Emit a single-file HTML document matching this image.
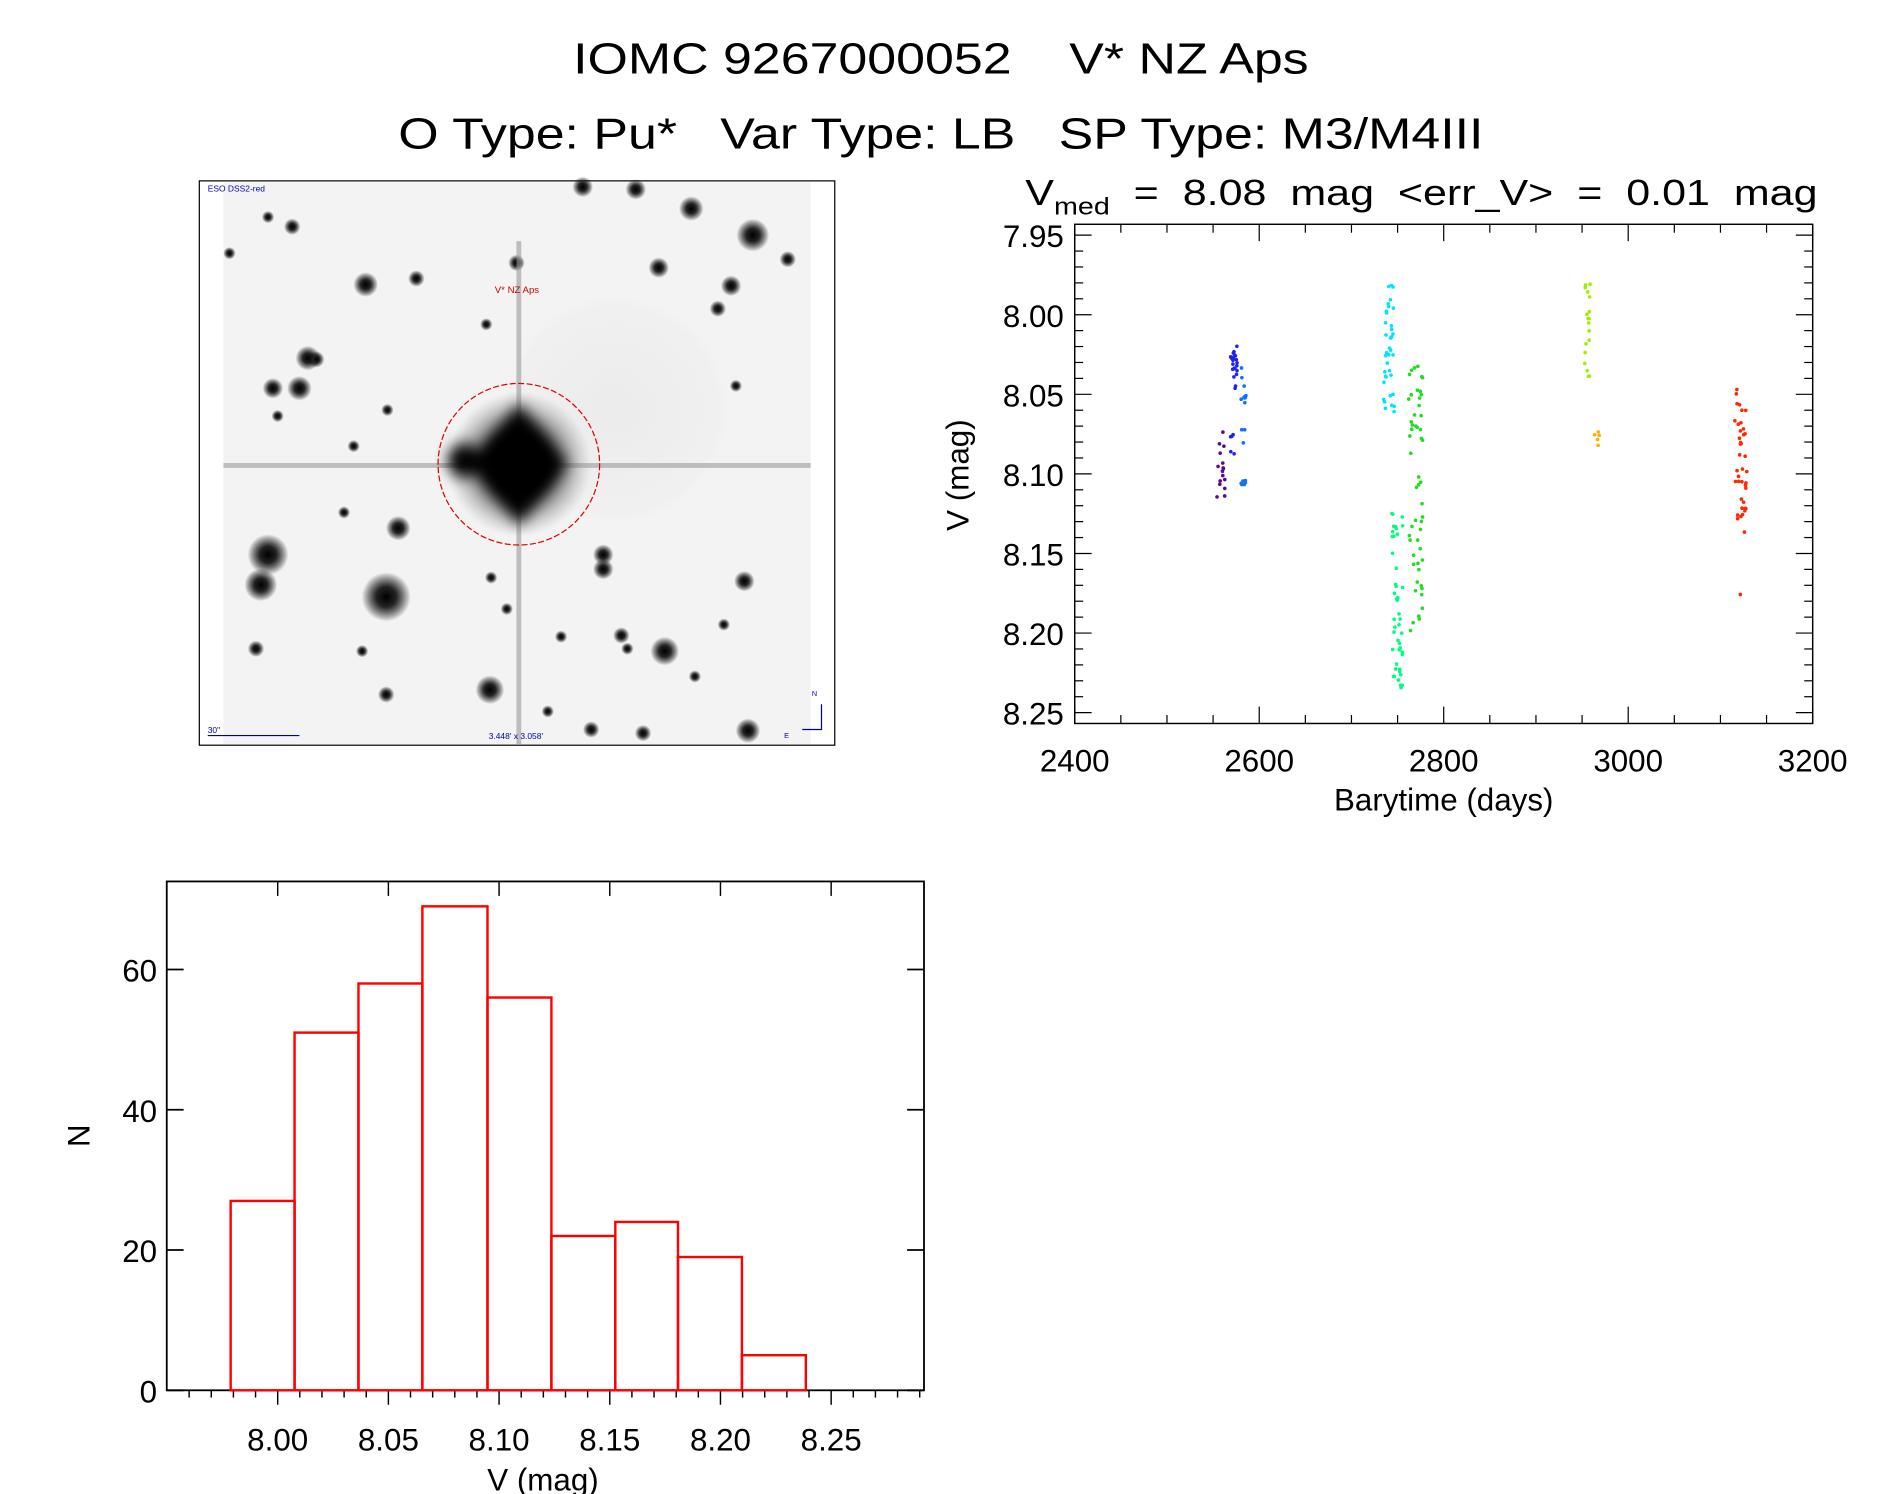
<!DOCTYPE html>
<html><head><meta charset="utf-8"><style>
html,body{margin:0;padding:0;background:#fff;}
svg{display:block;}
text{font-family:"Liberation Sans","DejaVu Sans",sans-serif;fill:#000;white-space:pre;}
</style></head><body>
<svg id="s" width="1889" height="1494" viewBox="0 0 1566 1239" xmlns="http://www.w3.org/2000/svg">
<defs>
<radialGradient id="star"><stop offset="0" stop-color="#000"/><stop offset="0.4" stop-color="#222"/><stop offset="1" stop-color="#000" stop-opacity="0"/></radialGradient>
<radialGradient id="big"><stop offset="0" stop-color="#000"/><stop offset="0.35" stop-color="#0a0a0a"/><stop offset="0.6" stop-color="#555" stop-opacity="0.7"/><stop offset="1" stop-color="#999" stop-opacity="0"/></radialGradient>
<radialGradient id="halo"><stop offset="0" stop-color="#ddd" stop-opacity="0.35"/><stop offset="0.9" stop-color="#e4e4e4" stop-opacity="0.2"/><stop offset="1" stop-color="#eee" stop-opacity="0"/></radialGradient>
<filter id="bl"><feGaussianBlur stdDeviation="6"/></filter>
</defs>
<text x="780" y="61" font-size="36" text-anchor="middle" textLength="610" lengthAdjust="spacingAndGlyphs">IOMC 9267000052    V* NZ Aps</text>
<text x="780" y="123" font-size="36" text-anchor="middle" textLength="900" lengthAdjust="spacingAndGlyphs">O Type: Pu*   Var Type: LB   SP Type: M3/M4III</text>

<!-- image panel -->
<rect x="165" y="150" width="527" height="468" fill="#fff" stroke="#000" stroke-width="1"/>
<rect x="185" y="151" width="487" height="466" fill="#f3f3f3"/>
<circle cx="510" cy="340" r="95" fill="url(#halo)"/>
<g id="stars"></g>
<rect x="185" y="384" width="487" height="4" fill="#999" opacity="0.6"/>
<rect x="428" y="200" width="4" height="417" fill="#999" opacity="0.6"/>
<circle cx="430" cy="385" r="60" fill="url(#big)"/>
<g filter="url(#bl)"><path d="M430 335 L470 385 L430 435 L390 385 Z" fill="#000"/><circle cx="385" cy="382" r="14" fill="#000"/><ellipse cx="430" cy="386" rx="30" ry="32" fill="#000"/></g>
<circle cx="430" cy="385" r="67" fill="none" stroke="#d00" stroke-width="1" stroke-dasharray="5,2"/>
<text x="410" y="243" font-size="8" style="fill:#c00">V* NZ Aps</text>
<text x="172" y="159" font-size="7" style="fill:#00a">ESO DSS2-red</text>
<line x1="172" y1="610" x2="248" y2="610" stroke="#00a"/>
<text x="172" y="608" font-size="7" style="fill:#00a">30"</text>
<text x="405" y="613" font-size="7" style="fill:#00a">3.448' x 3.058'</text>
<text x="673" y="577" font-size="6" style="fill:#00a">N</text>
<path d="M681 584 V605 H665" fill="none" stroke="#00a"/>
<text x="650" y="612" font-size="6" style="fill:#00a">E</text>

<!-- light curve -->
<text x="850" y="170" font-size="30" textLength="657" lengthAdjust="spacingAndGlyphs">V<tspan font-size="20" dy="8">med</tspan><tspan dy="-8">  =  8.08  mag  &lt;err_V&gt;  =  0.01  mag</tspan></text>
<rect x="891" y="186" width="612" height="414" fill="none" stroke="#000" stroke-width="1.2"/>
<g id="lct"></g>
<g id="lcd"></g>
<text x="1197" y="672" font-size="26" text-anchor="middle">Barytime (days)</text>
<text transform="translate(803,394) rotate(-90)" font-size="26" text-anchor="middle">V (mag)</text>

<!-- histogram -->
<rect x="138" y="731" width="628" height="422" fill="none" stroke="#000" stroke-width="1.5"/>
<g id="ht"></g>
<g id="hb" fill="none" stroke="#f00" stroke-width="2"></g>
<text x="450" y="1236" font-size="26" text-anchor="middle">V (mag)</text>
<text transform="translate(74,942) rotate(-90)" font-size="26" text-anchor="middle">N</text>
</svg>
<script>
var NS="http://www.w3.org/2000/svg";
function el(p,t,a,txt){var e=document.createElementNS(NS,t);for(var k in a)e.setAttribute(k,a[k]);if(txt!==undefined)e.textContent=txt;document.getElementById(p).appendChild(e);return e;}
var seed=7;function rnd(){seed=(seed*16807)%2147483647;return seed/2147483647;}
var st=[[483,155,5],[527,157,5],[573,173,6],[624,195,8],[653,215,4],[242,188,4],[303,236,6],[345,231,4],[428,218,4],[546,222,5],[606,237,5],[595,256,4],[403,269,3],[255,297,6],[226,322,5],[248,322,6],[262,298,4],[321,340,3],[500,460,5],[500,472,5],[222,460,10],[216,485,8],[320,495,12],[407,479,3],[330,438,6],[551,540,7],[617,482,5],[576,561,3],[212,538,4],[300,540,3],[465,528,3],[515,527,4],[520,538,3],[600,518,3],[406,572,7],[320,576,4],[454,590,3],[620,606,6],[533,608,4],[490,605,4],[222,180,3],[190,210,3],[293,370,3],[230,345,3],[420,505,3],[610,320,3],[285,425,3]];
st.forEach(function(s){el("stars","circle",{cx:s[0],cy:s[1],r:s[2]*1.7,fill:"url(#star)"});});
function X(t){return 891+(t-2400)*612/800;}
function Y(v){return 195+(v-7.95)*1320;}
for(var t=2400;t<=3200;t+=50){var maj=t%200==0,L=maj?14:7;
 el("lct","line",{x1:X(t),y1:600,x2:X(t),y2:600-L,stroke:"#000"});
 el("lct","line",{x1:X(t),y1:186,x2:X(t),y2:186+L,stroke:"#000"});
 if(maj)el("lct","text",{x:X(t),y:640,"font-size":26,"text-anchor":"middle"},String(t));}
for(var i=0;i<=31;i++){var v=7.95+i*0.01;if(v>8.256)break;var maj=i%5==0,L=maj?14:7;
 el("lct","line",{x1:891,y1:Y(v),x2:891+L,y2:Y(v),stroke:"#000"});
 el("lct","line",{x1:1503,y1:Y(v),x2:1503-L,y2:Y(v),stroke:"#000"});
 if(maj)el("lct","text",{x:882,y:Y(v)+10,"font-size":26,"text-anchor":"end"},v.toFixed(2));}
var cl=[[1009,1016,355,417,16,"#5a0a8c"],[1020,1026,285,325,22,"#2222ee"],[1020,1024,350,380,5,"#2222ee"],[1029,1033,305,410,18,"#1070ff"],
[1147,1156,234,342,38,"#00e5ff"],[1154,1163,425,572,45,"#00ff80"],[1168,1180,300,535,55,"#22dd22"],[1314,1319,232,315,18,"#a0ee00"],
[1322,1326,358,373,5,"#ffb000"],[1438,1449,320,445,40,"#ff2800"]];
cl.forEach(function(c){for(var i=0;i<c[4];i++){el("lcd","circle",{cx:c[0]+rnd()*(c[1]-c[0]),cy:c[2]+rnd()*(c[3]-c[2]),r:1.5,fill:c[5]});}});
el("lcd","circle",{cx:1443,cy:493,r:1.5,fill:"#ff2800"});
function HX(v){return 230+(v-8.0)*1836;}
function HY(n){return 1153-n*349/60;}
for(var i=-5;i<=29;i++){var v=8.0+i*0.01;var x=HX(v);if(x<139||x>765)continue;var maj=((i%5)+5)%5==0,L=maj?12:6;
 el("ht","line",{x1:x,y1:1153,x2:x,y2:1153+L,stroke:"#000","stroke-width":1.2});
 if(maj){el("ht","line",{x1:x,y1:731,x2:x,y2:743,stroke:"#000","stroke-width":1.2});
 el("ht","text",{x:x,y:1203,"font-size":26,"text-anchor":"middle"},v.toFixed(2));}}
[0,20,40,60].forEach(function(n){el("ht","line",{x1:138,y1:HY(n),x2:152,y2:HY(n),stroke:"#000","stroke-width":1.5});
 el("ht","line",{x1:766,y1:HY(n),x2:752,y2:HY(n),stroke:"#000","stroke-width":1.5});
 el("ht","text",{x:130,y:HY(n)+10,"font-size":26,"text-anchor":"end"},String(n));});
var ed=[191,244,297,350,404,457,510,562,615,668],hh=[27,51,58,69,56,22,24,19,5];
for(var i=0;i<9;i++)el("hb","rect",{x:ed[i],y:HY(hh[i]),width:ed[i+1]-ed[i],height:1153-HY(hh[i])});
</script>
</body></html>
